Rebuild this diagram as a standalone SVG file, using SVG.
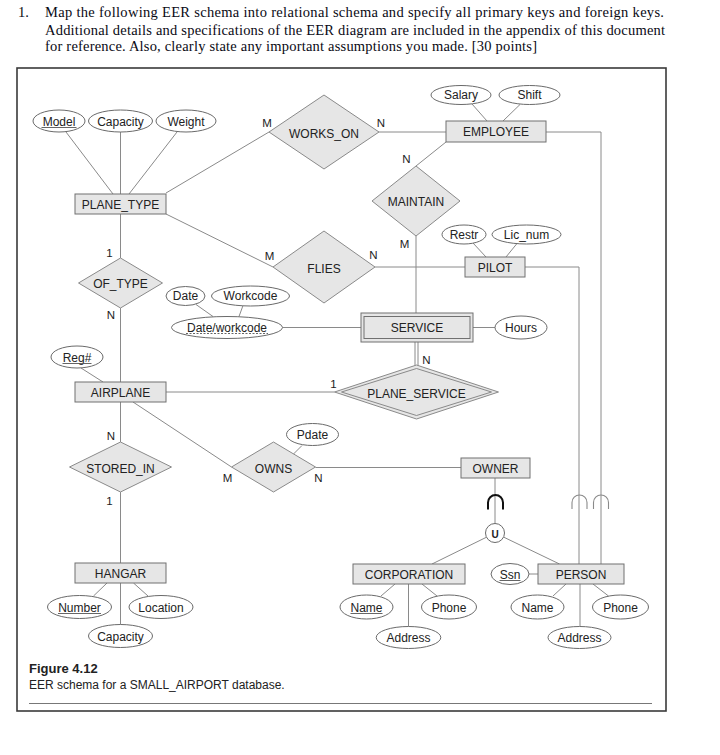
<svg xmlns="http://www.w3.org/2000/svg" width="720" height="755" viewBox="0 0 720 755">
<style>
.bg{fill:#ffffff}
.frame{fill:none;stroke:#3a3a3a;stroke-width:1.6}
.hd{font-family:"Liberation Serif","Times New Roman",serif;font-size:14.5px;fill:#0a0a14}
.ent{fill:#e6e6e6;stroke:#707070;stroke-width:1}
.rel{fill:#e6e6e6;stroke:#8a8a8a;stroke-width:1}
.att{fill:#ffffff;stroke:#6a6a6a;stroke-width:1}
.t{font-family:"Liberation Sans",Arial,sans-serif;font-size:12px;fill:#222;text-anchor:middle}
.lbl{font-family:"Liberation Sans",Arial,sans-serif;font-size:11.5px;fill:#222;text-anchor:middle}
.ln{fill:none;stroke:#8a8a8a;stroke-width:1}
.ul{stroke:#555;stroke-width:0.9}
.sub{fill:none;stroke:#8a8a8a;stroke-width:1.1}
.subk{fill:none;stroke:#111;stroke-width:2}
.cap{font-family:"Liberation Sans",Arial,sans-serif;fill:#222}
</style>
<rect class="bg" x="0" y="0" width="720" height="755"/>

<g id="heading">
<text class="hd" x="18" y="17.3">1.</text>
<text class="hd" x="45" y="17.3" textLength="619" lengthAdjust="spacing">Map the following EER schema into relational schema and specify all primary keys and foreign keys.</text>
<text class="hd" x="45" y="34.5" textLength="620" lengthAdjust="spacing">Additional details and specifications of the EER diagram are included in the appendix of this document</text>
<text class="hd" x="45" y="51.3" textLength="492" lengthAdjust="spacing">for reference. Also, clearly state any important assumptions you made. [30 points]</text>
</g>

<rect class="frame" x="17" y="68" width="649" height="643"/>

<g id="connectors">
<line class="ln" x1="66" y1="132" x2="113" y2="194"/>
<line class="ln" x1="120.5" y1="132" x2="120.5" y2="194"/>
<line class="ln" x1="177" y1="132" x2="129" y2="194"/>
<line class="ln" x1="166" y1="193" x2="269" y2="132"/>
<line class="ln" x1="379" y1="132" x2="446" y2="132"/>
<line class="ln" x1="472" y1="104" x2="487" y2="121"/>
<line class="ln" x1="520" y1="104.5" x2="503" y2="121"/>
<polyline class="ln" points="546,132 601,132 601,564"/>
<line class="ln" x1="446" y1="142" x2="416" y2="166"/>
<line class="ln" x1="416" y1="236" x2="416" y2="313"/>
<line class="ln" x1="166" y1="214" x2="273" y2="267"/>
<line class="ln" x1="375" y1="267" x2="465" y2="267"/>
<line class="ln" x1="473" y1="243" x2="486" y2="257"/>
<line class="ln" x1="517" y1="243.5" x2="506" y2="257"/>
<polyline class="ln" points="525,267 579,267 579,564"/>
<line class="ln" x1="120.5" y1="214" x2="120.5" y2="258"/>
<line class="ln" x1="120.5" y1="308" x2="120.5" y2="382"/>
<line class="ln" x1="196" y1="304.5" x2="213" y2="316.5"/>
<line class="ln" x1="243" y1="305.5" x2="239" y2="316.5"/>
<line class="ln" x1="282.5" y1="327.5" x2="361" y2="327.5"/>
<line class="ln" x1="473" y1="327.5" x2="495" y2="327.5"/>
<line class="ln" x1="415" y1="342" x2="415" y2="366"/>
<line class="ln" x1="418" y1="342" x2="418" y2="366"/>
<line class="ln" x1="81" y1="368" x2="103" y2="382"/>
<line class="ln" x1="166" y1="392" x2="334.5" y2="392"/>
<line class="ln" x1="133" y1="402" x2="231.5" y2="467"/>
<line class="ln" x1="302" y1="445.5" x2="293.5" y2="454"/>
<line class="ln" x1="315.5" y1="467.5" x2="461" y2="467.5"/>
<line class="ln" x1="120.5" y1="402" x2="120.5" y2="442"/>
<line class="ln" x1="120.5" y1="492" x2="120.5" y2="563"/>
<line class="ln" x1="93.5" y1="596" x2="107" y2="583"/>
<line class="ln" x1="148" y1="596" x2="133.5" y2="583"/>
<line class="ln" x1="120.5" y1="583" x2="120.5" y2="624.5"/>
<line class="ln" x1="495" y1="478" x2="495" y2="523.5"/>
<line class="ln" x1="486.5" y1="537.2" x2="432" y2="564"/>
<line class="ln" x1="503.6" y1="537.1" x2="559.5" y2="564"/>
<line class="ln" x1="529" y1="574" x2="538" y2="574"/>
<line class="ln" x1="381" y1="596" x2="395" y2="584"/>
<line class="ln" x1="437" y1="596" x2="422" y2="584"/>
<line class="ln" x1="408.5" y1="584" x2="408.5" y2="626.5"/>
<line class="ln" x1="553" y1="596" x2="566" y2="584"/>
<line class="ln" x1="608.5" y1="596" x2="593" y2="584"/>
<line class="ln" x1="580" y1="584" x2="580" y2="626.5"/>
<path class="subk" d="M488,509.5 V502.5 A7.5,7.5 0 0 1 503,502.5 V509.5"/>
<path class="sub" d="M572,509 V502.5 A7.5,7.5 0 0 1 587,502.5 V509"/>
<path class="sub" d="M593.5,509 V502.5 A7.5,7.5 0 0 1 608.5,502.5 V509"/>
</g>

<g id="labels">
<text class="lbl" x="267" y="127">M</text>
<text class="lbl" x="381" y="127">N</text>
<text class="lbl" x="406.5" y="163">N</text>
<text class="lbl" x="404.5" y="247.5">M</text>
<text class="lbl" x="269.5" y="260">M</text>
<text class="lbl" x="373.5" y="259">N</text>
<text class="lbl" x="109.5" y="256.7">1</text>
<text class="lbl" x="111" y="319">N</text>
<text class="lbl" x="333.5" y="387.5">1</text>
<text class="lbl" x="426.5" y="364">N</text>
<text class="lbl" x="111" y="440">N</text>
<text class="lbl" x="109.5" y="505">1</text>
<text class="lbl" x="227.5" y="482">M</text>
<text class="lbl" x="318.5" y="482">N</text>
</g>

<g id="PLANE_TYPE"><rect class="ent" x="75" y="194" width="91" height="20"/><text class="t" x="120.5" y="208.5">PLANE_TYPE</text></g>
<g id="EMPLOYEE"><rect class="ent" x="446" y="121" width="100" height="21"/><text class="t" x="496" y="135.5">EMPLOYEE</text></g>
<g id="PILOT"><rect class="ent" x="465" y="257" width="60" height="20"/><text class="t" x="495" y="271.5">PILOT</text></g>
<g id="SERVICE"><rect class="ent" x="361" y="313" width="112" height="29"/><rect class="ent" x="364" y="316.5" width="106" height="22"/><text class="t" x="417" y="332">SERVICE</text></g>
<g id="AIRPLANE"><rect class="ent" x="75" y="382" width="91" height="20"/><text class="t" x="120.5" y="396.5">AIRPLANE</text></g>
<g id="HANGAR"><rect class="ent" x="75" y="563" width="91" height="20"/><text class="t" x="120.5" y="577.5">HANGAR</text></g>
<g id="OWNER"><rect class="ent" x="461" y="458" width="69" height="20"/><text class="t" x="495.5" y="472.5">OWNER</text></g>
<g id="CORPORATION"><rect class="ent" x="353" y="564" width="112" height="20"/><text class="t" x="409" y="578.5">CORPORATION</text></g>
<g id="PERSON"><rect class="ent" x="538" y="564" width="86" height="20"/><text class="t" x="581" y="578.5">PERSON</text></g>

<g id="WORKS_ON"><polygon class="rel" points="269,132 324,95 379,132 324,169"/><text class="t" x="324" y="137.5">WORKS_ON</text></g>
<g id="MAINTAIN"><polygon class="rel" points="372,201 416,166 460,201 416,236"/><text class="t" x="416" y="205.5">MAINTAIN</text></g>
<g id="FLIES"><polygon class="rel" points="273,267 324,231 375,267 324,303"/><text class="t" x="324" y="272.5">FLIES</text></g>
<g id="OF_TYPE"><polygon class="rel" points="78.5,283 120.5,258 162.5,283 120.5,308"/><text class="t" x="120.5" y="288">OF_TYPE</text></g>
<g id="PLANE_SERVICE"><polygon class="rel" points="334.5,392 416.5,365 498.5,392 416.5,419"/><polygon class="rel" points="341.5,392 416.5,368.5 491.5,392 416.5,415.5"/><text class="t" x="416.5" y="397.5">PLANE_SERVICE</text></g>
<g id="OWNS"><polygon class="rel" points="231.5,467 273.5,442 315.5,467 273.5,492"/><text class="t" x="273.5" y="472.5">OWNS</text></g>
<g id="STORED_IN"><polygon class="rel" points="69.5,467 120.5,442 171.5,467 120.5,492"/><text class="t" x="120.5" y="472.5">STORED_IN</text></g>

<g id="U_union"><circle class="att" cx="495" cy="533" r="9.5"/><text class="t" x="495" y="537.5" style="font-weight:bold;font-size:10px">U</text></g>

<g id="att_Model"><ellipse class="att" cx="59" cy="121" rx="26" ry="11"/><text class="t" x="59" y="125.5">Model</text><line class="ul" x1="41.5" y1="127.5" x2="76.5" y2="127.5"/></g>
<g id="att_Capacity_pt"><ellipse class="att" cx="120.5" cy="121" rx="32" ry="11"/><text class="t" x="120.5" y="125.5">Capacity</text></g>
<g id="att_Weight"><ellipse class="att" cx="186" cy="121" rx="30" ry="11"/><text class="t" x="186" y="125.5">Weight</text></g>
<g id="att_Salary"><ellipse class="att" cx="461" cy="95" rx="30" ry="9.5"/><text class="t" x="461" y="99">Salary</text></g>
<g id="att_Shift"><ellipse class="att" cx="529.5" cy="95" rx="30.5" ry="9.5"/><text class="t" x="529.5" y="99">Shift</text></g>
<g id="att_Restr"><ellipse class="att" cx="464" cy="234.5" rx="22" ry="9.5"/><text class="t" x="464" y="238.5">Restr</text></g>
<g id="att_Lic_num"><ellipse class="att" cx="526.5" cy="234.5" rx="34.5" ry="9.5"/><text class="t" x="526.5" y="238.5">Lic_num</text></g>
<g id="att_Date"><ellipse class="att" cx="185.5" cy="296" rx="19.5" ry="9.5"/><text class="t" x="185.5" y="300">Date</text></g>
<g id="att_Workcode"><ellipse class="att" cx="250.5" cy="296" rx="39" ry="10"/><text class="t" x="250.5" y="300">Workcode</text></g>
<g id="att_Date_workcode"><ellipse class="att" cx="227" cy="327.5" rx="55.5" ry="11"/><text class="t" x="227" y="331.5">Date/workcode</text><line class="ul" x1="186" y1="333.5" x2="268" y2="333.5" stroke-dasharray="2,1.5"/></g>
<g id="att_Hours"><ellipse class="att" cx="521" cy="327.5" rx="26" ry="11.5"/><text class="t" x="521" y="332">Hours</text></g>
<g id="att_Reg"><ellipse class="att" cx="77" cy="357" rx="26" ry="11"/><text class="t" x="77" y="361.5">Reg#</text><line class="ul" x1="62.5" y1="363.5" x2="91.5" y2="363.5"/></g>
<g id="att_Pdate"><ellipse class="att" cx="312.5" cy="434.5" rx="26" ry="11"/><text class="t" x="312.5" y="439">Pdate</text></g>
<g id="att_Ssn"><ellipse class="att" cx="510" cy="574" rx="19" ry="10.5"/><text class="t" x="510" y="578.5">Ssn</text><line class="ul" x1="499.5" y1="580.5" x2="520.5" y2="580.5"/></g>
<g id="att_Number"><ellipse class="att" cx="79.5" cy="607" rx="32" ry="11.5"/><text class="t" x="79.5" y="611.5">Number</text><line class="ul" x1="58" y1="613.5" x2="101" y2="613.5"/></g>
<g id="att_Location"><ellipse class="att" cx="161" cy="607" rx="32" ry="11.5"/><text class="t" x="161" y="611.5">Location</text></g>
<g id="att_Capacity_h"><ellipse class="att" cx="120.5" cy="636" rx="32" ry="11.5"/><text class="t" x="120.5" y="640.5">Capacity</text></g>
<g id="att_Name_c"><ellipse class="att" cx="366.5" cy="607" rx="26.5" ry="12"/><text class="t" x="366.5" y="611.5">Name</text><line class="ul" x1="350.5" y1="613.5" x2="382.5" y2="613.5"/></g>
<g id="att_Phone_c"><ellipse class="att" cx="449" cy="607" rx="27.5" ry="12"/><text class="t" x="449" y="611.5">Phone</text></g>
<g id="att_Address_c"><ellipse class="att" cx="408.5" cy="637.5" rx="32.3" ry="11"/><text class="t" x="408.5" y="642">Address</text></g>
<g id="att_Name_p"><ellipse class="att" cx="537.5" cy="607" rx="26.5" ry="12"/><text class="t" x="537.5" y="611.5">Name</text></g>
<g id="att_Phone_p"><ellipse class="att" cx="620.5" cy="607" rx="28" ry="12"/><text class="t" x="620.5" y="611.5">Phone</text></g>
<g id="att_Address_p"><ellipse class="att" cx="579.5" cy="637.5" rx="31.5" ry="11"/><text class="t" x="579.5" y="642">Address</text></g>

<g id="caption">
<text class="cap" x="29" y="672.5" style="font-size:13px;font-weight:bold">Figure 4.12</text>
<text class="cap" x="29" y="689" style="font-size:12px">EER schema for a SMALL_AIRPORT database.</text>
<line x1="29" y1="703.5" x2="652" y2="703.5" stroke="#777" stroke-width="1"/>
</g>
</svg>
